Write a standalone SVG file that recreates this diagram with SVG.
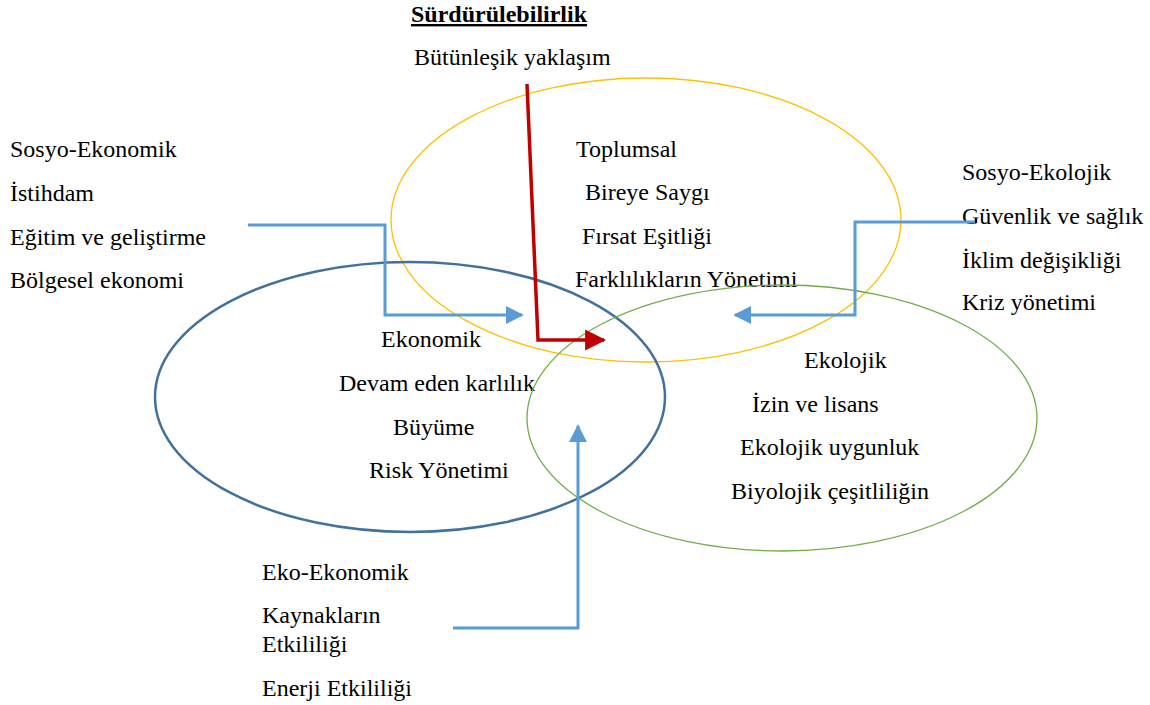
<svg xmlns="http://www.w3.org/2000/svg" width="1150" height="705" viewBox="0 0 1150 705">
<style>
text{font-family:"Liberation Serif","Times New Roman",serif;font-size:24px;fill:#000}
.b{font-weight:bold;text-decoration:underline}
.conn{fill:none;stroke:#5b9bd5;stroke-width:3}
</style>
<defs>
<marker id="ab" viewBox="0 0 10 10" refX="9" refY="5" markerWidth="6" markerHeight="6" markerUnits="strokeWidth" orient="auto"><path d="M0,0L10,5L0,10z" fill="#5b9bd5"/></marker>
<marker id="ar" viewBox="0 0 10 10" refX="9" refY="5" markerWidth="6" markerHeight="6" markerUnits="strokeWidth" orient="auto"><path d="M0,0L10,5L0,10z" fill="#c00000"/></marker>
</defs>
<rect width="1150" height="705" fill="#fff"/>
<g id="toplumsal">
<ellipse cx="646" cy="220" rx="255" ry="142" fill="none" stroke="#ffc000" stroke-width="1.3"/>
<text x="576" y="157">Toplumsal</text>
<text x="585" y="200">Bireye Saygı</text>
<text x="582" y="244">Fırsat Eşitliği</text>
<text x="575" y="287">Farklılıkların Yönetimi</text>
</g>
<g id="ekonomik">
<ellipse cx="410" cy="397" rx="255" ry="135" fill="none" stroke="#41719c" stroke-width="2.5"/>
<text x="381" y="347">Ekonomik</text>
<text x="339" y="391">Devam eden karlılık</text>
<text x="393" y="435">Büyüme</text>
<text x="369" y="478">Risk Yönetimi</text>
</g>
<g id="ekolojik">
<ellipse cx="782" cy="418" rx="255" ry="133" fill="none" stroke="#70ad47" stroke-width="1.3"/>
<text x="804" y="368">Ekolojik</text>
<text x="752" y="412">İzin ve lisans</text>
<text x="740" y="455">Ekolojik uygunluk</text>
<text x="731" y="499">Biyolojik çeşitliliğin</text>
</g>
<g id="title">
<text class="b" x="411" y="22">Sürdürülebilirlik</text>
<text x="414" y="65">Bütünleşik yaklaşım</text>
</g>
<g id="sosyo-ekonomik">
<text x="10" y="157">Sosyo-Ekonomik</text>
<text x="10" y="201">İstihdam</text>
<text x="10" y="245">Eğitim ve geliştirme</text>
<text x="10" y="288">Bölgesel ekonomi</text>
</g>
<g id="sosyo-ekolojik">
<text x="962" y="180">Sosyo-Ekolojik</text>
<text x="962" y="224">Güvenlik ve sağlık</text>
<text x="962" y="268">İklim değişikliği</text>
<text x="962" y="310">Kriz yönetimi</text>
</g>
<g id="eko-ekonomik">
<text x="262" y="580">Eko-Ekonomik</text>
<text x="262" y="623">Kaynakların</text>
<text x="262" y="652">Etkililiği</text>
<text x="262" y="696">Enerji Etkililiği</text>
</g>
<g id="connectors">
<path class="conn" d="M248,225H385V315H522" marker-end="url(#ab)"/>
<path class="conn" d="M975,222H855V315H735" marker-end="url(#ab)"/>
<path class="conn" d="M453,628H578V426" marker-end="url(#ab)"/>
<path d="M527,84L538,340H604" fill="none" stroke="#c00000" stroke-width="3.5" marker-end="url(#ar)"/>
</g>
</svg>
